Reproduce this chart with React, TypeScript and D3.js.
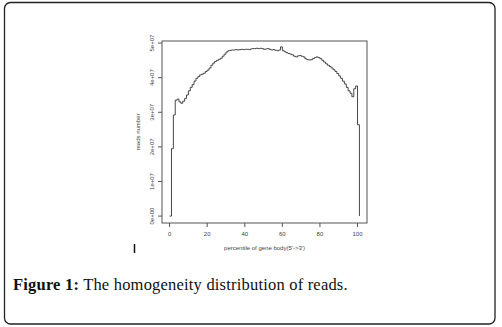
import * as d3 from 'd3'
import { useEffect, useRef } from 'react'

// percentile of gene body (0..101), reads number in units of 1e7
const percentiles = d3.range(0, 102)
const reads = [
  0.0, 1.95, 2.92, 3.35, 3.38, 3.30, 3.26, 3.32, 3.40, 3.50,
  3.62, 3.72, 3.80, 3.90, 3.98, 4.03, 4.08, 4.10, 4.13, 4.18,
  4.22, 4.28, 4.36, 4.42, 4.47, 4.50, 4.53, 4.56, 4.62, 4.68,
  4.74, 4.78, 4.79, 4.80, 4.80, 4.81, 4.80, 4.81, 4.82, 4.81,
  4.82, 4.82, 4.81, 4.83, 4.84, 4.84, 4.85, 4.84, 4.85, 4.84,
  4.82, 4.83, 4.84, 4.82, 4.80, 4.81, 4.79, 4.78, 4.80, 4.89,
  4.78, 4.75, 4.72, 4.70, 4.68, 4.66, 4.62, 4.60, 4.63, 4.64,
  4.62, 4.60, 4.55, 4.52, 4.51, 4.52, 4.55, 4.58, 4.60, 4.58,
  4.55, 4.50, 4.45, 4.40, 4.36, 4.32, 4.28, 4.23, 4.18, 4.12,
  4.05, 3.98, 3.90, 3.82, 3.72, 3.62, 3.55, 3.45, 3.68, 3.76,
  2.64, 0.0,
]
const xTicks = [0, 20, 40, 60, 80, 100]
const yTicks = [0, 1, 2, 3, 4, 5]
const yTickLabels = ['0e+00', '1e+07', '2e+07', '3e+07', '4e+07', '5e+07']

export default function App() {
  const ref = useRef<SVGSVGElement>(null)

  useEffect(() => {
    if (!ref.current) return
    document.body.style.margin = '0'

    const width = 502
    const height = 327
    // plot box
    const left = 162, right = 367, top = 41, bottom = 223

    const x = d3.scaleLinear().domain([-4.04, 105.04]).range([left, right])
    const y = d3.scaleLinear().domain([-0.2, 5.06]).range([bottom, top])

    const svg = d3.select(ref.current)
      .attr('width', width)
      .attr('height', height)

    const g = svg.append('g')

    // outer frame
    g.append('rect')
      .attr('x', 4.5).attr('y', 2.5)
      .attr('width', 490.5).attr('height', 321.5)
      .attr('rx', 6)
      .attr('fill', 'white')
      .attr('stroke', '#222')
      .attr('stroke-width', 1.3)

    const line = d3.line<number>()
      .x((_d, i) => x(percentiles[i]))
      .y(d => y(d))
      .curve(d3.curveStepAfter)

    g.append('path')
      .datum(reads)
      .attr('d', line)
      .attr('fill', 'none')
      .attr('stroke', '#333')
      .attr('stroke-width', 0.9)

    // box
    g.append('rect')
      .attr('x', left).attr('y', top)
      .attr('width', right - left).attr('height', bottom - top)
      .attr('fill', 'none')
      .attr('stroke', '#555')
      .attr('stroke-width', 1)

    const font = 'Liberation Sans, Arial, sans-serif'

    // x axis
    const xa = g.append('g')
    xa.selectAll('line').data(xTicks).enter().append('line')
      .attr('x1', d => x(d)).attr('x2', d => x(d))
      .attr('y1', bottom).attr('y2', bottom + 4)
      .attr('stroke', '#555')
    xa.selectAll('text').data(xTicks).enter().append('text')
      .attr('x', d => x(d)).attr('y', 236)
      .attr('text-anchor', 'middle')
      .attr('font-family', font).attr('font-size', 6)
      .attr('fill', '#444')
      .text(d => d)

    // y axis
    const ya = g.append('g')
    ya.selectAll('line').data(yTicks).enter().append('line')
      .attr('x1', left).attr('x2', left - 4)
      .attr('y1', d => y(d)).attr('y2', d => y(d))
      .attr('stroke', '#555')
    ya.selectAll('text').data(yTicks).enter().append('text')
      .attr('transform', d => `translate(153.5,${y(d)}) rotate(-90)`)
      .attr('text-anchor', 'middle')
      .attr('font-family', font).attr('font-size', 6)
      .attr('fill', '#444')
      .text((_d, i) => yTickLabels[i])

    g.append('text')
      .attr('x', (left + right) / 2).attr('y', 250)
      .attr('text-anchor', 'middle')
      .attr('font-family', font).attr('font-size', 6)
      .attr('fill', '#444')
      .text("percentile of gene body(5'->3')")

    g.append('text')
      .attr('transform', `translate(139.5,${(top + bottom) / 2}) rotate(-90)`)
      .attr('text-anchor', 'middle')
      .attr('font-family', font).attr('font-size', 6)
      .attr('fill', '#444')
      .text('reads number')

    // stray mark under the plot
    g.append('line')
      .attr('x1', 134.5).attr('x2', 134.5)
      .attr('y1', 244).attr('y2', 253)
      .attr('stroke', '#111').attr('stroke-width', 1.5)

    // caption
    const cap = g.append('text')
      .attr('x', 13).attr('y', 289.5)
      .attr('font-family', 'Liberation Serif, Times New Roman, serif')
      .attr('font-size', 16.5)
      .attr('letter-spacing', 0.2)
      .attr('fill', '#111')
    cap.append('tspan').attr('font-weight', 'bold').text('Figure 1:')
    cap.append('tspan').text(' The homogeneity distribution of reads.')

    return () => {
      g.remove()
    }
  }, [])

  return <svg ref={ref} style={{ display: 'block' }} />
}
